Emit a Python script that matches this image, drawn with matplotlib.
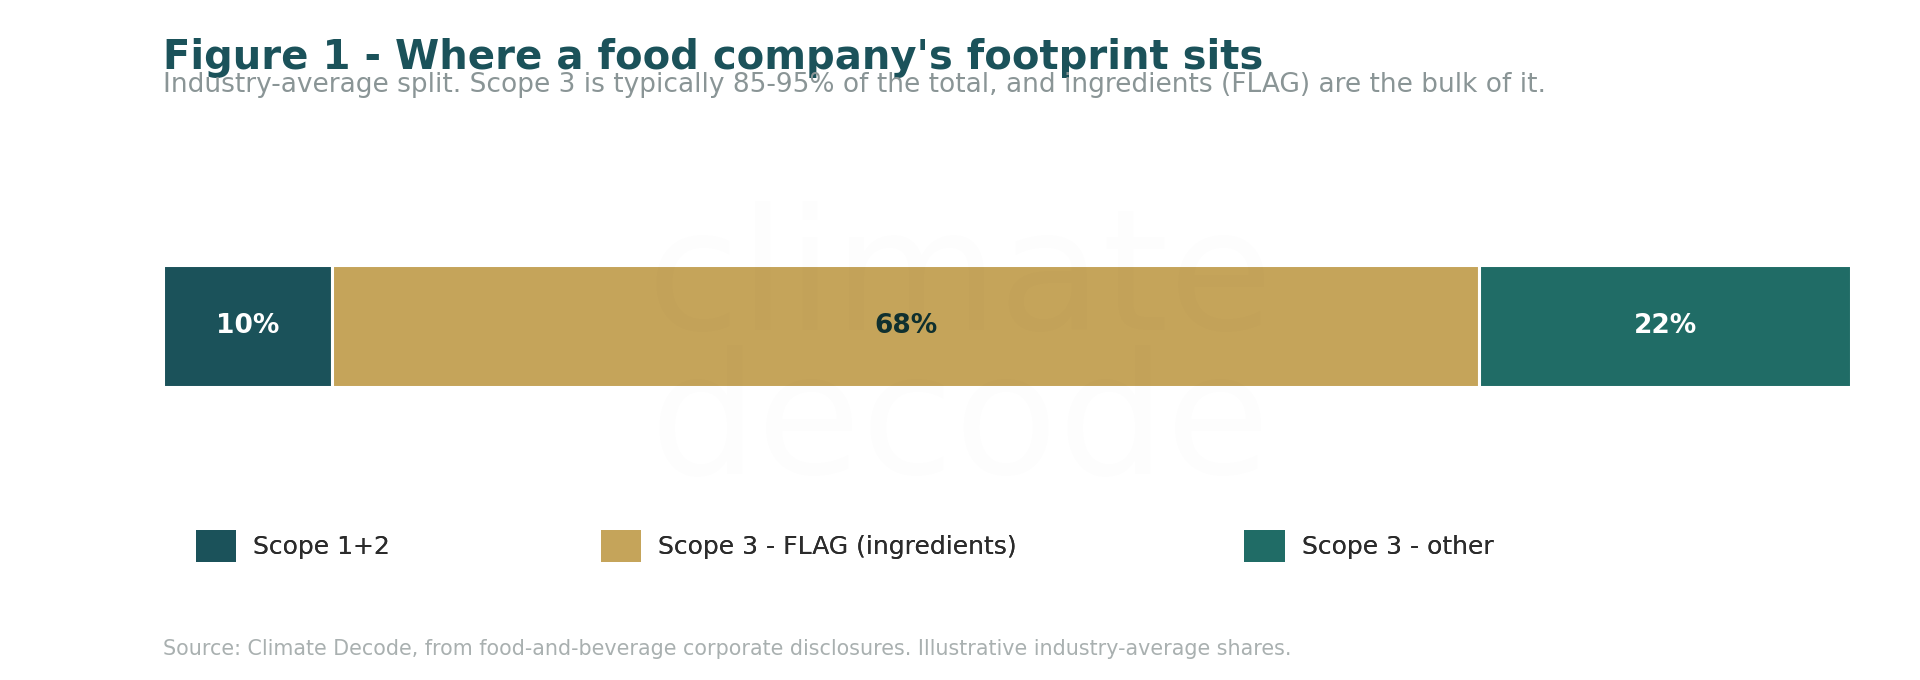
import matplotlib
matplotlib.use("Agg")
import matplotlib.pyplot as plt
from matplotlib.patches import Patch

# industry-average split of a food company's footprint
segments = ["Scope 1+2", "Scope 3 - FLAG (ingredients)", "Scope 3 - other"]
shares = [10, 68, 22]
colors = ["#1b525a", "#c5a45a", "#206c66"]
label_colors = ["white", "#10302f", "white"]

title = "Figure 1 - Where a food company's footprint sits"
subtitle = ("Industry-average split. Scope 3 is typically 85-95% of the total, "
            "and ingredients (FLAG) are the bulk of it.")
source = ("Source: Climate Decode, from food-and-beverage corporate disclosures. "
          "Illustrative industry-average shares.")

plt.rcParams["font.family"] = ["DejaVu Sans"]

fig = plt.figure(figsize=(19.2, 6.8), dpi=100)
fig.patch.set_facecolor("white")

# bar axes span exactly the bar
ax = fig.add_axes([0.0849, 0.431, 0.879, 0.180])
left = 0
for name, v, c, lc in zip(segments, shares, colors, label_colors):
    ax.barh(0, v, left=left, height=1.0, color=c, edgecolor="white", linewidth=2.2)
    ax.text(left + v / 2, 0, f"{v}%", ha="center", va="center",
            fontsize=19, fontweight="bold", color=lc)
    left += v
ax.set_xlim(0, sum(shares))
ax.set_ylim(-0.5, 0.5)
ax.axis("off")

# faint watermark
fig.text(0.5, 0.5147, "climate", ha="center", va="baseline", fontsize=122,
         color="#000000", alpha=0.008, zorder=10)
fig.text(0.5, 0.3044, "decode", ha="center", va="baseline", fontsize=122,
         color="#000000", alpha=0.008, zorder=10)

fig.text(0.0849, 0.898, title, fontsize=28.9, fontweight="bold",
         color="#1b525a", va="baseline", ha="left")
fig.text(0.0849, 0.865, subtitle, fontsize=19, color="#8a9596",
         va="baseline", ha="left")

# legend entries sit at fixed x positions, one legend per entry
legend_x = [0.102, 0.313, 0.648]
for n, c, x in zip(segments, colors, legend_x):
    leg = fig.legend(handles=[Patch(facecolor=c, edgecolor="none", label=n)],
                     loc="center left", bbox_to_anchor=(x, 0.197), frameon=False,
                     fontsize=18, handlelength=1.62, handleheight=1.6,
                     handletextpad=0.68, borderpad=0, borderaxespad=0,
                     labelcolor="#2b2b2b")
    fig.add_artist(leg)

fig.text(0.0849, 0.037, source, fontsize=14.85, color="#a9b0b0",
         va="baseline", ha="left")

fig.savefig("out.png", dpi=100, facecolor="white")
